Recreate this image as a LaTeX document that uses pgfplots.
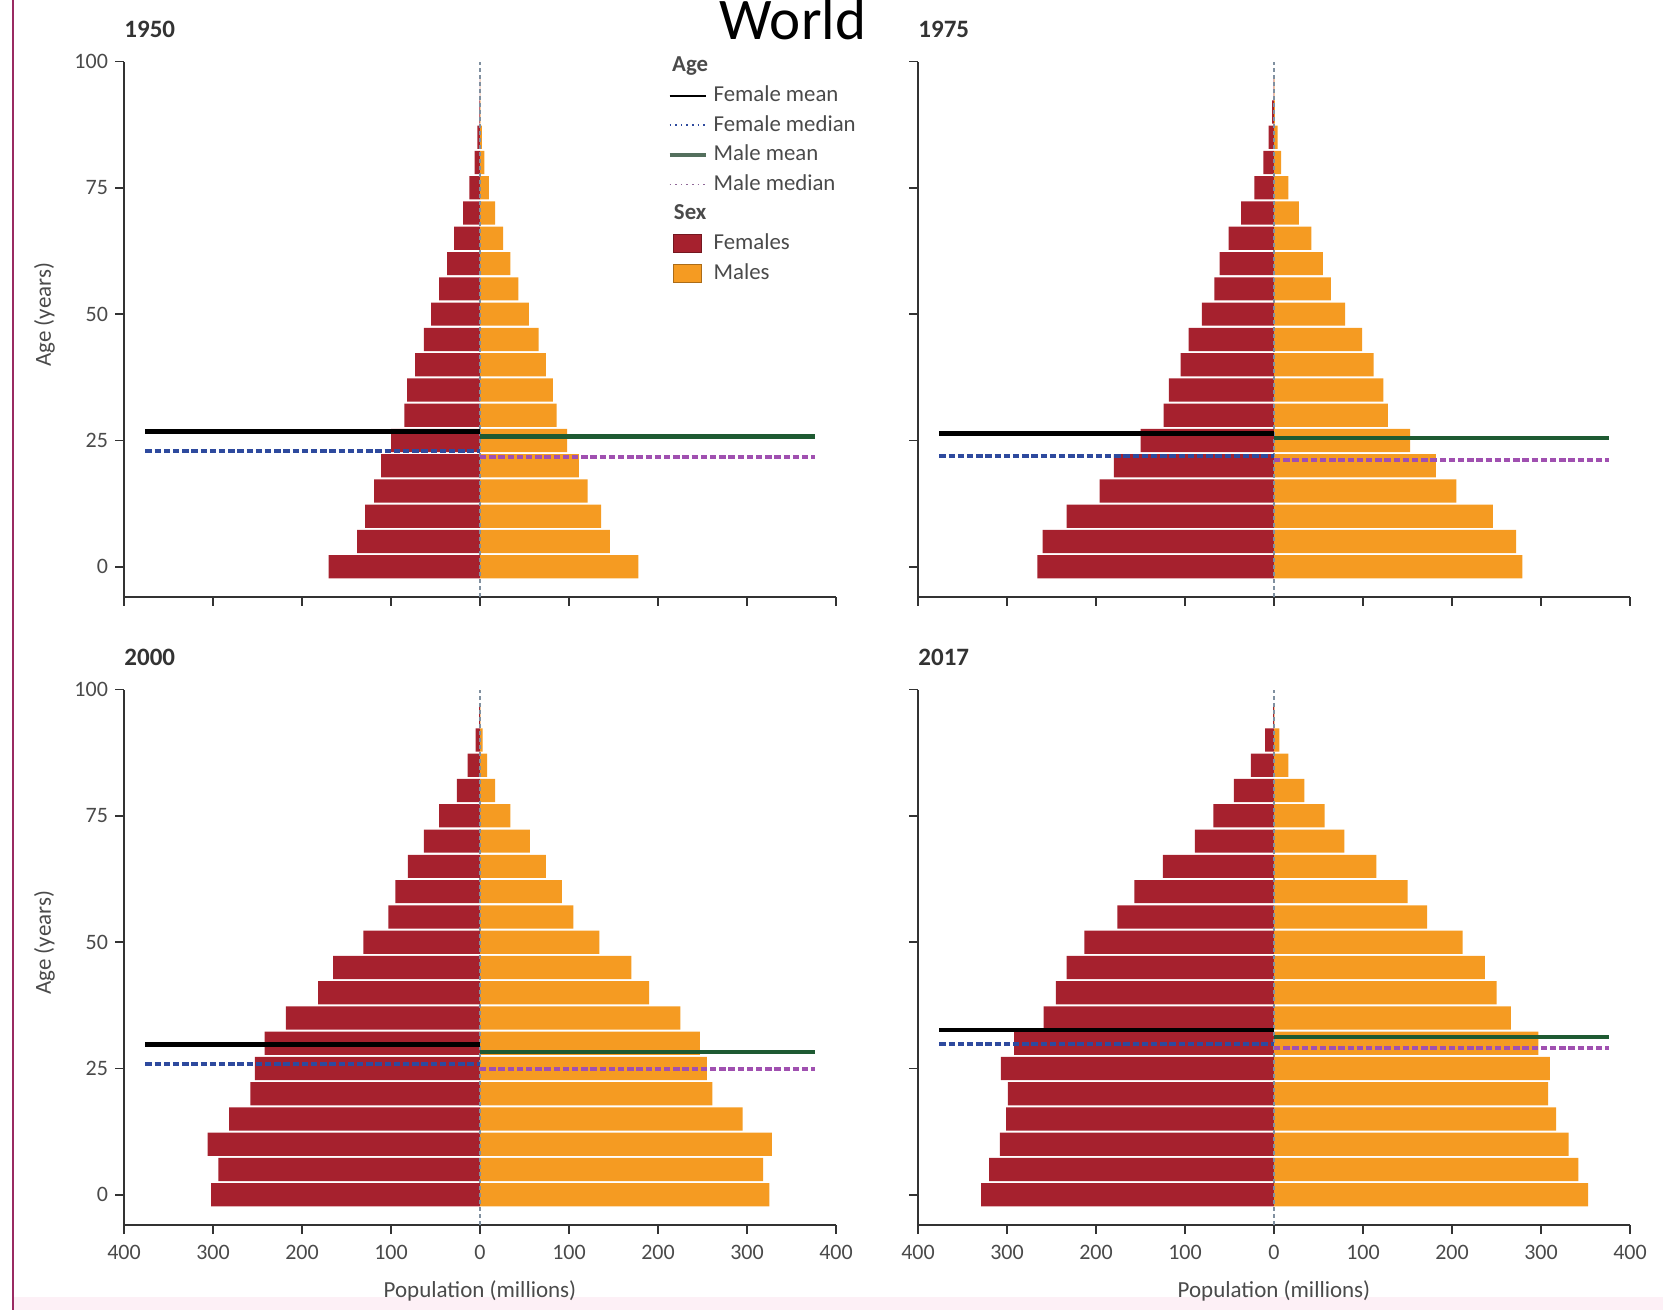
\documentclass[border=0pt]{standalone}
\usepackage{pgfplots}
\pgfplotsset{compat=1.18}
\usepackage{pgfplotstable}
\usepackage{fontspec}
\setmainfont{Carlito}

\definecolor{fem}{HTML}{A6212E}
\definecolor{mal}{HTML}{F59B22}
\definecolor{fmedc}{HTML}{2E4A9E}
\definecolor{mmeanc}{HTML}{1E5A32}
\definecolor{mmedc}{HTML}{A050B0}
\definecolor{axcol}{HTML}{333333}
\definecolor{labcol}{HTML}{4A4A4A}
\definecolor{zeroc}{HTML}{8090A0}
\definecolor{edgec}{HTML}{9A2A62}
\definecolor{bandc}{HTML}{FDF0F6}

% age group, females (negative), males; population in millions
\pgfplotstableread{
age f m
0 -170 178
5 -138 146
10 -129 136
15 -119 121
20 -111 111
25 -100 98
30 -85 86
35 -82 82
40 -73 74
45 -63 66
50 -55 55
55 -46 43
60 -37 34
65 -29 26
70 -19 17
75 -12 10
80 -6 5
85 -3 2
90 -0.8 0.4
95 -0.1 0.05
}\popA

\pgfplotstableread{
age f m
0 -266 279
5 -260 272
10 -233 246
15 -196 205
20 -180 182
25 -150 153
30 -124 128
35 -118 123
40 -105 112
45 -96 99
50 -81 80
55 -67 64
60 -61 55
65 -51 42
70 -37 28
75 -22 16
80 -12 8
85 -6 4
90 -2 1
95 -0.5 0.3
}\popB

\pgfplotstableread{
age f m
0 -302 325
5 -294 318
10 -306 328
15 -282 295
20 -258 261
25 -253 255
30 -242 247
35 -218 225
40 -182 190
45 -165 170
50 -131 134
55 -103 105
60 -95 92
65 -81 74
70 -63 56
75 -46 34
80 -26 17
85 -14 8
90 -5 3
95 -1 0.5
}\popC

\pgfplotstableread{
age f m
0 -329 353
5 -320 342
10 -308 331
15 -301 317
20 -299 308
25 -307 310
30 -292 297
35 -259 266
40 -245 250
45 -233 237
50 -213 212
55 -176 172
60 -157 150
65 -125 115
70 -89 79
75 -68 57
80 -45 34
85 -26 16
90 -10 6
95 -1 0.5
}\popD

\tikzset{yearlab/.style={anchor=base west, inner sep=0pt, font=\bfseries\fontsize{12.5}{14}\selectfont, text=axcol}}

\pgfplotsset{
  pyr/.style={
    scale only axis, width=356pt, height=267.7pt,
    xmin=-400, xmax=400, ymin=-6, ymax=100,
    axis x line=bottom, axis y line=left,
    axis line style={-, draw=axcol, line width=0.9pt},
    xtick={-400,-300,...,400}, ytick={0,25,50,75,100},
    tick align=outside, major tick length=4.5pt,
    every tick/.style={axcol, line width=0.9pt},
    tick label style={font=\fontsize{11}{13}\selectfont, text=labcol},
    xticklabel style={yshift=-2pt},
    /pgf/number format/assume math mode=true,
    label style={font=\fontsize{11.5}{13}\selectfont, text=labcol},
    anchor=south west, clip=false,
  },
  botx/.style={xticklabels={400,300,200,100,0,100,200,300,400},
    xlabel={Population (millions)},
    xlabel style={at={(axis description cs:0.5,0)}, anchor=center, yshift=-32.8pt}},
  topx/.style={xticklabels={}},
  lefty/.style={ylabel={Age (years)},
    ylabel style={at={([xshift=-39.8pt]axis description cs:0,0.527)}, anchor=center}},
  righty/.style={yticklabels={}},
  fmean/.style={black, line width=2.2pt},
  fmed/.style={fmedc, line width=2pt, dash pattern=on 3.2pt off 1.4pt},
  mmean/.style={mmeanc, line width=2.2pt},
  mmed/.style={mmedc, line width=2pt, dash pattern=on 3.2pt off 1.4pt},
  lineleg/.style={legend image code/.code={\draw[##1] (0pt,0pt) -- (18pt,0pt);}},
  boxleg/.style={legend image code/.code={\draw[##1] (2pt,-4.5pt) rectangle (16pt,4.5pt);}},
}

\newcommand\pyrplots[5]{%
  \addplot[forget plot, xbar, bar width=4.6, bar shift=0pt, fill=fem, draw=none] table[x=f, y=age] {#1};
  \addplot[forget plot, xbar, bar width=4.6, bar shift=0pt, fill=mal, draw=none] table[x=m, y=age] {#1};
  \addplot[forget plot, zeroc, line width=0.7pt, dash pattern=on 2pt off 1.5pt] coordinates {(0,-6) (0,100)};
  \addplot[forget plot, fmed] coordinates {(-376,#3) (0,#3)};
  \addplot[forget plot, mmed] coordinates {(0,#5) (376,#5)};
  \addplot[forget plot, fmean] coordinates {(-376,#2) (0,#2)};
  \addplot[forget plot, mmean] coordinates {(0,#4) (376,#4)};
}

\begin{document}
\begin{tikzpicture}
\useasboundingbox (0,0) rectangle (831.5pt,655pt);
\fill[bandc] (7pt,0) rectangle (831.5pt,6.5pt);
\draw[edgec, line width=1.1pt] (6.5pt,0) -- (6.5pt,655pt);

\node[anchor=base, font=\fontsize{29.5}{32}\selectfont] at (396.5pt,635pt) {World};

% 1950
\begin{axis}[pyr, topx, lefty, at={(62pt,356.5pt)},
  legend cell align=left,
  legend style={at={(rel axis cs:0.763,1)}, anchor=north west, yshift=4pt,
    draw=none, fill=none, inner sep=0pt,
    font=\fontsize{11.4}{13}\selectfont, text=labcol, row sep=2.8pt,
    nodes={inner sep=0pt, text height=9pt, text depth=3pt},
    /tikz/every odd column/.append style={column sep=3pt}}]
\pyrplots{\popA}{26.8}{22.9}{25.8}{21.7}
\node[yearlab] at ([yshift=12pt]rel axis cs:0,1) {1950};
\addlegendimage{empty legend}
\addlegendentry{\hspace*{-24.5pt}\textbf{Age}}
\addlegendimage{black, line width=1pt, lineleg}
\addlegendentry{Female mean}
\addlegendimage{fmedc, line width=0.8pt, dotted, lineleg}
\addlegendentry{Female median}
\addlegendimage{mmeanc!45!gray, line width=2pt, lineleg}
\addlegendentry{Male mean}
\addlegendimage{mmedc!50!gray, line width=0.8pt, dotted, lineleg}
\addlegendentry{Male median}
\addlegendimage{empty legend}
\addlegendentry{\hspace*{-24.5pt}\textbf{Sex}}
\addlegendimage{fill=fem, draw=fem!70!black, boxleg}
\addlegendentry{Females}
\addlegendimage{fill=mal, draw=mal!70!black, boxleg}
\addlegendentry{Males}
\end{axis}

% 1975
\begin{axis}[pyr, topx, righty, at={(459pt,356.5pt)}]
\pyrplots{\popB}{26.4}{21.9}{25.5}{21.1}
\node[yearlab] at ([yshift=12pt]rel axis cs:0,1) {1975};
\end{axis}

% 2000
\begin{axis}[pyr, botx, lefty, at={(62pt,42.5pt)}]
\pyrplots{\popC}{29.7}{25.8}{28.2}{24.8}
\node[yearlab] at ([yshift=12pt]rel axis cs:0,1) {2000};
\end{axis}

% 2017
\begin{axis}[pyr, botx, righty, at={(459pt,42.5pt)}]
\pyrplots{\popD}{32.6}{29.9}{31.2}{29.1}
\node[yearlab] at ([yshift=12pt]rel axis cs:0,1) {2017};
\end{axis}
\end{tikzpicture}
\end{document}
